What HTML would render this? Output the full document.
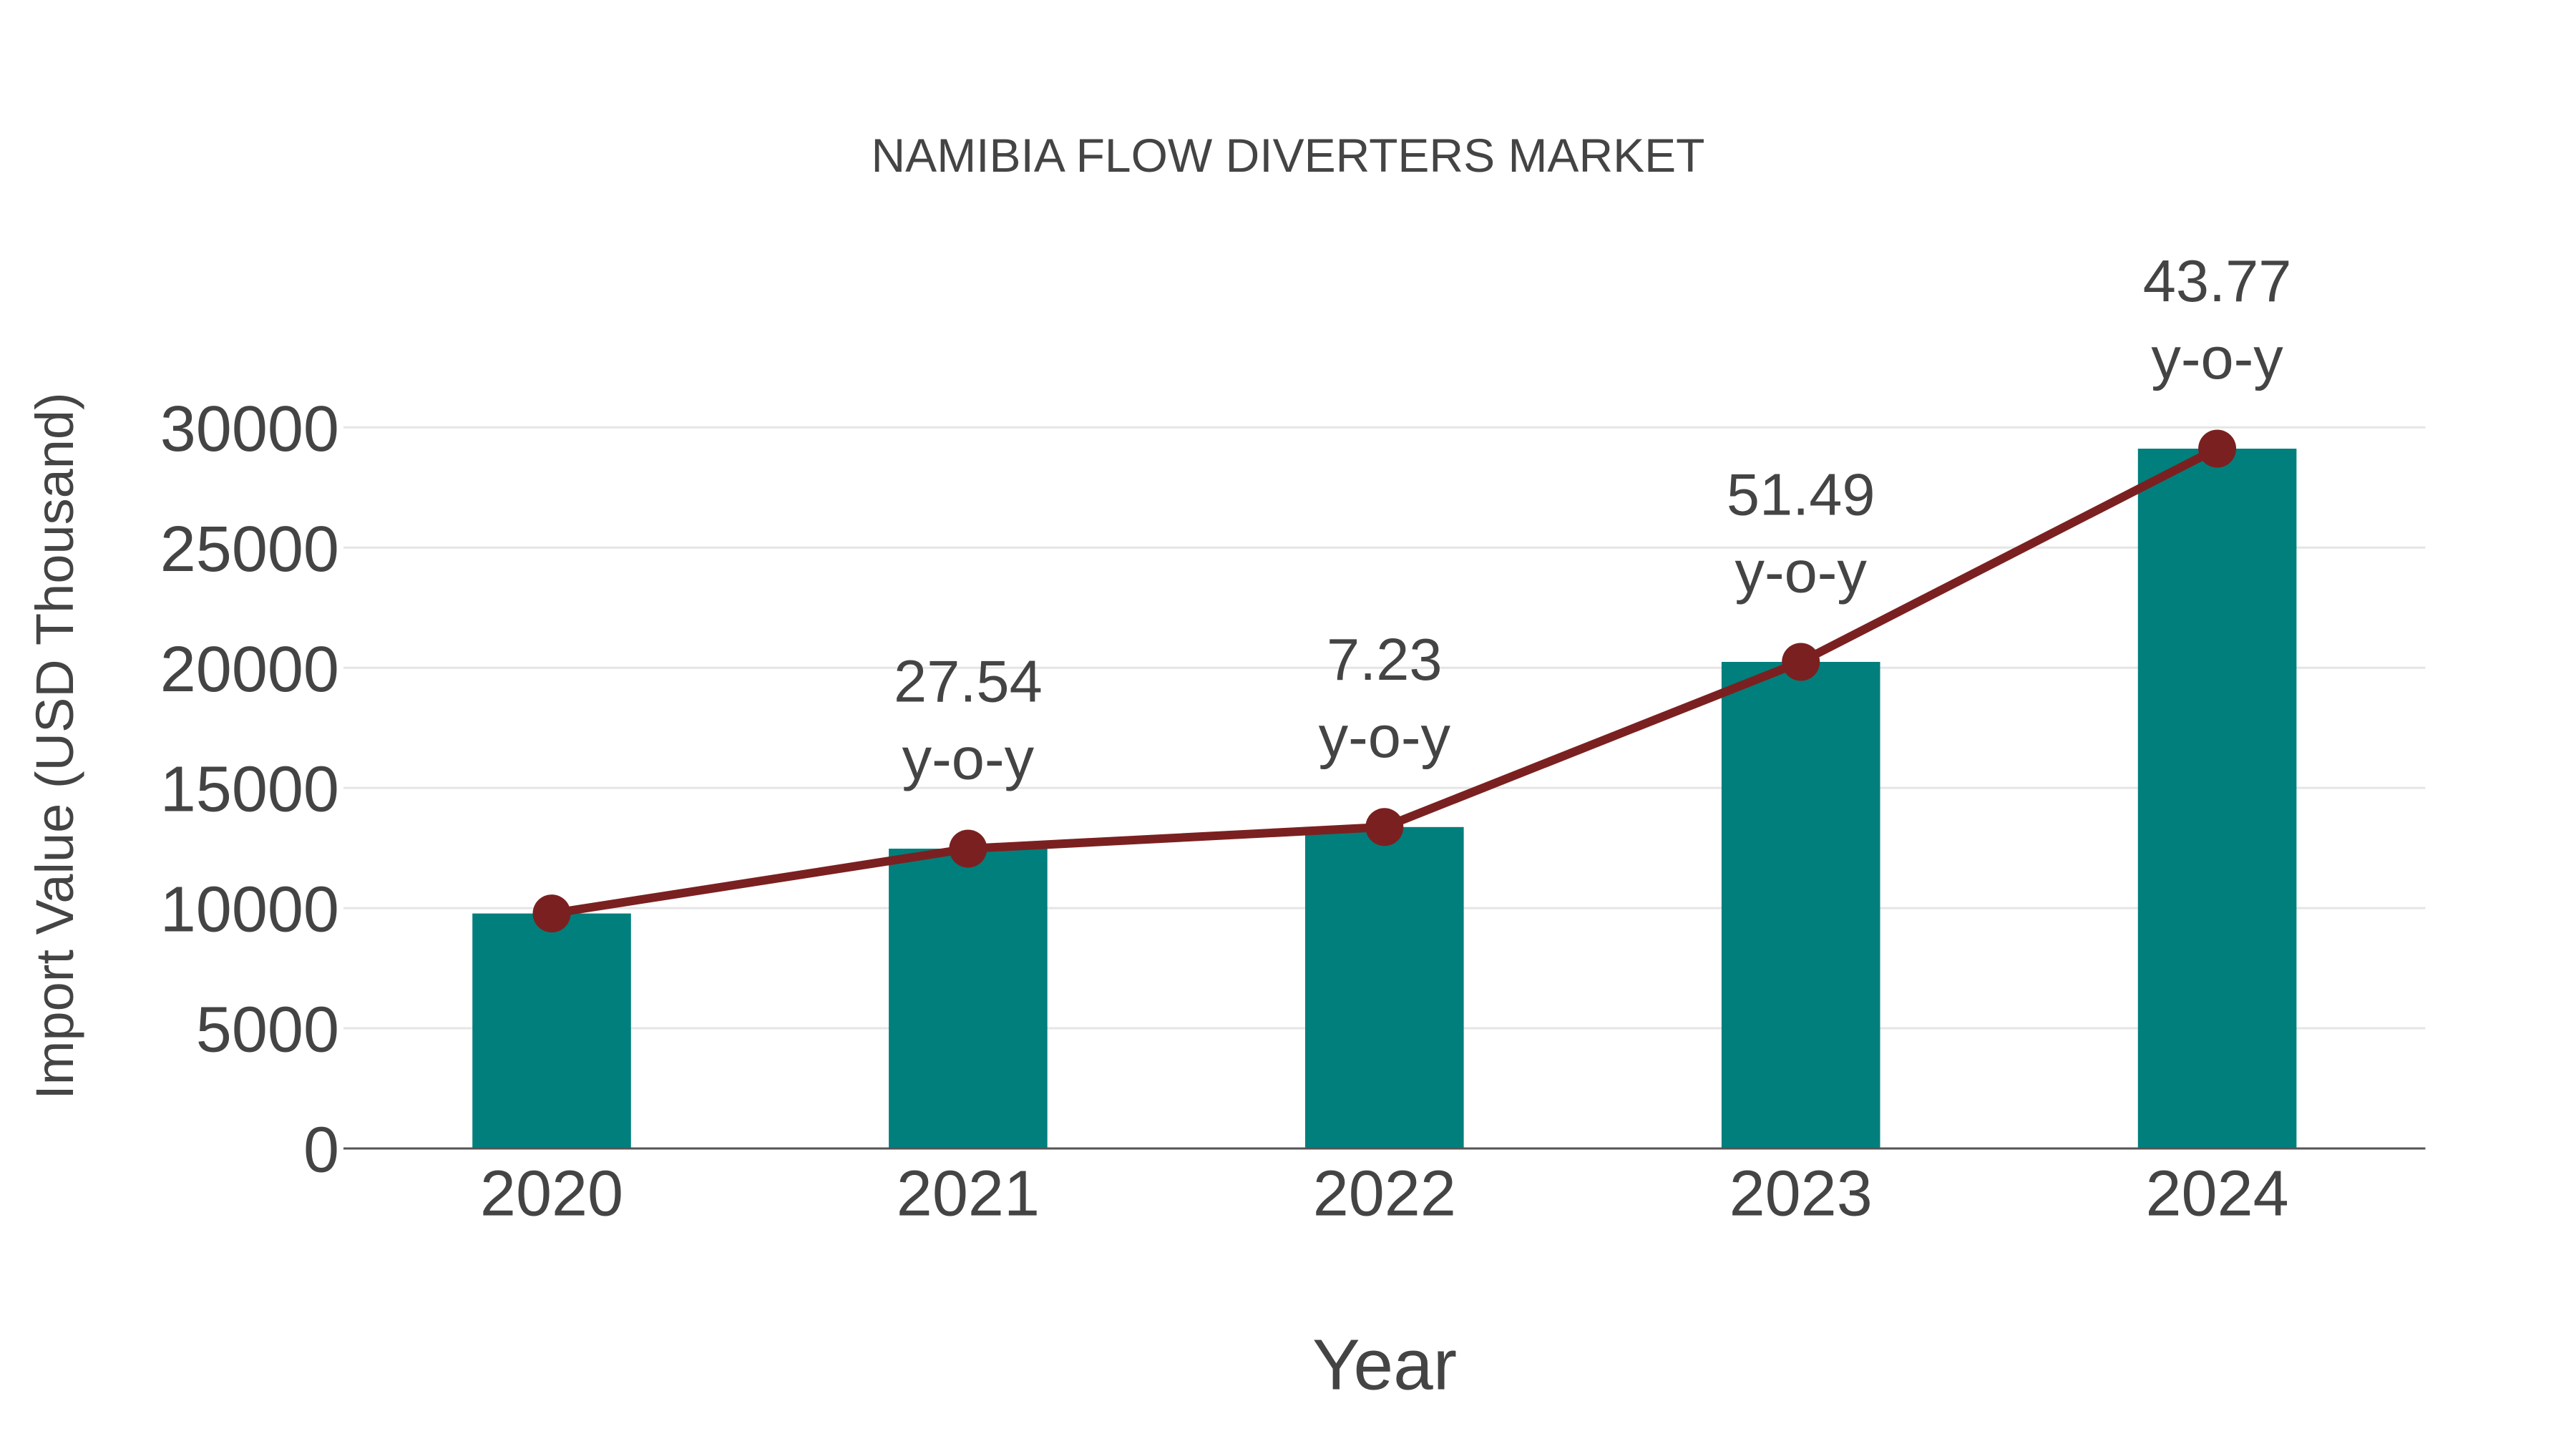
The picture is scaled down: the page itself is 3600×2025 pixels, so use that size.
<!DOCTYPE html>
<html>
<head>
<meta charset="utf-8">
<style>
  html, body { margin:0; padding:0; background:#fff; }
  svg { display:block; }
  text { font-family: "Liberation Sans", Arial, sans-serif; fill:#444; }
</style>
</head>
<body>
<svg width="3600" height="2025" viewBox="0 0 3600 2025" xmlns="http://www.w3.org/2000/svg">
  <rect x="0" y="0" width="3600" height="2025" fill="#fff"/>

  <!-- Title -->
  <text x="1800" y="240" font-size="66" text-anchor="middle">NAMIBIA FLOW DIVERTERS MARKET</text>

  <!-- Gridlines -->
  <g stroke="#e5e5e5" stroke-width="3">
    <line x1="480" y1="597.3" x2="3389.5" y2="597.3"/>
    <line x1="480" y1="765.25" x2="3389.5" y2="765.25"/>
    <line x1="480" y1="933.2" x2="3389.5" y2="933.2"/>
    <line x1="480" y1="1101.15" x2="3389.5" y2="1101.15"/>
    <line x1="480" y1="1269.1" x2="3389.5" y2="1269.1"/>
    <line x1="480" y1="1437.05" x2="3389.5" y2="1437.05"/>
  </g>

  <!-- Y tick labels -->
  <g font-size="90" text-anchor="end">
    <text x="474" y="630">30000</text>
    <text x="474" y="797.9">25000</text>
    <text x="474" y="965.8">20000</text>
    <text x="474" y="1133.7">15000</text>
    <text x="474" y="1301.6">10000</text>
    <text x="474" y="1469.5">5000</text>
    <text x="474" y="1637.5">0</text>
  </g>

  <!-- Bars -->
  <g fill="#007f7c">
    <rect x="660.2" y="1276.6" width="221.6" height="328.4"/>
    <rect x="1242.1" y="1186" width="221.6" height="419"/>
    <rect x="1824" y="1155.8" width="221.6" height="449.2"/>
    <rect x="2405.9" y="925" width="221.6" height="680"/>
    <rect x="2987.8" y="627" width="221.6" height="978"/>
  </g>

  <!-- X axis line -->
  <line x1="480" y1="1605" x2="3389.5" y2="1605" stroke="#555" stroke-width="3"/>

  <!-- X tick labels -->
  <g font-size="90" text-anchor="middle">
    <text x="771" y="1698.7">2020</text>
    <text x="1352.9" y="1698.7">2021</text>
    <text x="1934.8" y="1698.7">2022</text>
    <text x="2516.7" y="1698.7">2023</text>
    <text x="3098.6" y="1698.7">2024</text>
  </g>

  <!-- Line -->
  <polyline points="771,1276.6 1352.9,1186 1934.8,1155.8 2516.7,925 3098.6,627"
            fill="none" stroke="#7b2020" stroke-width="12" stroke-linejoin="round"/>
  <g fill="#7b2020">
    <circle cx="771" cy="1276.6" r="26.5"/>
    <circle cx="1352.9" cy="1186" r="26.5"/>
    <circle cx="1934.8" cy="1155.8" r="26.5"/>
    <circle cx="2516.7" cy="925" r="26.5"/>
    <circle cx="3098.6" cy="627" r="26.5"/>
  </g>

  <!-- Annotations -->
  <g font-size="83" text-anchor="middle">
    <text x="1352.9" y="980.5">27.54</text>
    <text x="1352.9" y="1088.5">y-o-y</text>
    <text x="1934.8" y="950">7.23</text>
    <text x="1934.8" y="1058">y-o-y</text>
    <text x="2516.7" y="719.5">51.49</text>
    <text x="2516.7" y="827.5">y-o-y</text>
    <text x="3098.6" y="421">43.77</text>
    <text x="3098.6" y="529">y-o-y</text>
  </g>

  <!-- Axis titles -->
  <text x="1935" y="1941.7" font-size="100" text-anchor="middle">Year</text>
  <text transform="translate(102,1042.5) rotate(-90)" font-size="74" text-anchor="middle">Import Value (USD Thousand)</text>
</svg>
</body>
</html>
